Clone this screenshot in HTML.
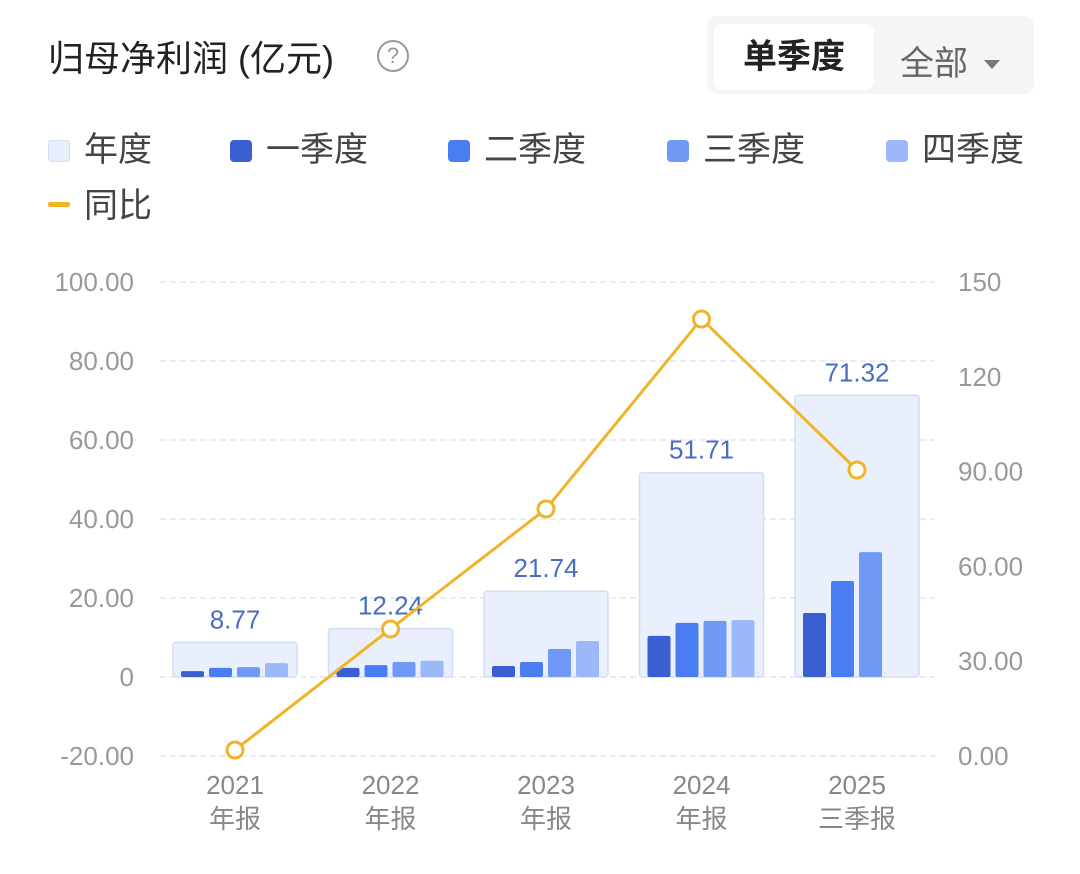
<!DOCTYPE html>
<html><head><meta charset="utf-8"><style>
body{margin:0;width:1080px;height:874px;background:#fff;font-family:"Liberation Sans","Noto Sans CJK SC",sans-serif;overflow:hidden;position:relative}
.t{position:absolute;white-space:nowrap}
</style></head><body>
<div class="t" style="left:48px;top:30px;font-size:36px;color:#222">归母净利润 (亿元)</div>
<div class="t" style="left:377px;top:40px;width:32px;height:32px;border:2.5px solid #999;border-radius:50%;box-sizing:border-box;color:#999;font-size:22px;text-align:center;line-height:28px">?</div>
<div style="position:absolute;left:707px;top:16px;width:327px;height:78px;background:#f4f5f7;border-radius:10px"></div>
<div class="t" style="left:714px;top:24px;width:160px;height:66px;background:#fff;border-radius:8px;font-size:34px;font-weight:bold;color:#222;text-align:center;line-height:66px">单季度</div>
<div class="t" style="left:900px;top:36px;font-size:34px;color:#666">全部<span style="display:inline-block;margin-left:16px;width:0;height:0;border-left:8px solid transparent;border-right:8px solid transparent;border-top:9px solid #777;vertical-align:6px"></span></div>
<div id="legend"></div>
<svg id="chart" width="1080" height="874" style="position:absolute;left:0;top:0"></svg>
<script>
const categories=["2021\n年报","2022\n年报","2023\n年报","2024\n年报","2025\n三季报"];
const annual=[8.77,12.24,21.74,51.71,71.32];
const q1=[1.5,2.3,2.8,10.4,16.2];
const q2=[2.3,3.0,3.8,13.7,24.3];
const q3=[2.5,3.8,7.1,14.2,31.6];
const q4=[3.5,4.1,9.1,14.4,null];
const yoy=[1.9,40.2,78.2,138.3,90.5];
const leftTicks=["100.00","80.00","60.00","40.00","20.00","0","-20.00"];
const rightTicks=["150","120","90.00","60.00","30.00","0.00"];
const NS="http://www.w3.org/2000/svg";
const svg=document.getElementById('chart');
const yL=v=>677-v*3.95;
const yR=v=>756-v*3.16;
const xC=i=>235+i*155.5;
function mk(tag,a,parent){const e=document.createElementNS(NS,tag);for(const k in a)e.setAttribute(k,a[k]);(parent||svg).appendChild(e);return e;}
leftTicks.forEach((t,i)=>{const y=282+i*79;
 const g=mk('line',{x1:160,x2:935,y1:y,y2:y,stroke:'#e3e6ec','stroke-dasharray':'6 4','stroke-width':1.5});
 
 const tx=mk('text',{x:134,y:y+9,'text-anchor':'end','font-size':26,fill:'#999'});tx.textContent=t;
 });
rightTicks.forEach((t,i)=>{const y=yR(150-i*30);
 const tx=mk('text',{x:958,y:y+9,'font-size':26,fill:'#999'});tx.textContent=t;
 });
const qs=[q1,q2,q3,q4],qc=['#3a5fd3','#4a7cf2','#7099f6','#9db8f8'];
categories.forEach((c,i)=>{const x=xC(i);
 const r=mk('rect',{x:x-62,y:yL(annual[i]),width:124,height:yL(0)-yL(annual[i]),fill:'#e9effc',stroke:'#d3ddf4','stroke-width':1.5,rx:3});
 
 const vl=mk('text',{x:x,y:yL(annual[i])-14,'text-anchor':'middle','font-size':26,fill:'#4a6cc2'});vl.textContent=annual[i].toFixed(2);
 
 qs.forEach((q,j)=>{if(q[i]==null)return;
  const b=mk('rect',{x:x-54+j*28,y:yL(q[i]),width:23,height:yL(0)-yL(q[i]),fill:qc[j],rx:2});
  });
 c.split('\n').forEach((s,k)=>{const tx=mk('text',{x:x,y:794+k*34,'text-anchor':'middle','font-size':26,fill:'#888'});tx.textContent=s;
  });
});
const pl=mk('polyline',{points:yoy.map((v,i)=>xC(i)+','+yR(v)).join(' '),fill:'none',stroke:'#f0b428','stroke-width':3});

yoy.forEach((v,i)=>{const c=mk('circle',{cx:xC(i),cy:yR(v),r:8,fill:'#fff',stroke:'#f0b428','stroke-width':3});
 });
const leg=[['年度','#e9effc',48],['一季度','#3a5fd3',230],['二季度','#4a7cf2',448],['三季度','#7099f6',667],['四季度','#9db8f8',886]];
const L=document.getElementById('legend');
leg.forEach(l=>{const d=document.createElement('div');d.className='t';d.style.cssText=`left:${l[2]}px;top:122px;font-size:34px;color:#444`;
 d.innerHTML=`<span style="display:inline-block;width:22px;height:22px;border-radius:4px;background:${l[1]};${l[0]=='年度'?'border:1.5px solid #d3ddf4;box-sizing:border-box;':''}margin-right:14px;vertical-align:-1px"></span>${l[0]}`;
 
 
 L.appendChild(d);});
const d=document.createElement('div');d.className='t';d.style.cssText='left:48px;top:178px;font-size:34px;color:#444';
d.innerHTML='<span style="display:inline-block;width:22px;height:5px;border-radius:2px;background:#f0b428;margin-right:14px;vertical-align:10px"></span>同比';


L.appendChild(d);
</script>
</body></html>
